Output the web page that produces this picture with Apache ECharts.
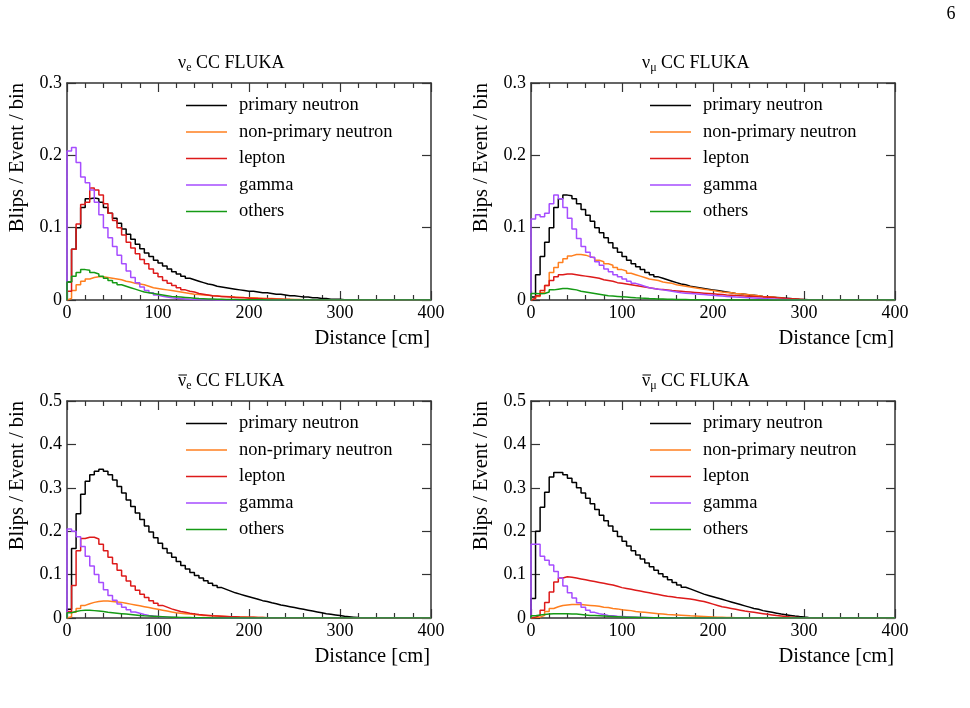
<!DOCTYPE html>
<html>
<head>
<meta charset="utf-8">
<script src="https://cdn.jsdelivr.net/npm/echarts@6/dist/echarts.min.js"></script>
<style>
  html, body { margin: 0; padding: 0; background: #fff; }
  #main { width: 970px; height: 708px; }
</style>
</head>
<body>
<div id="main"></div>
<script>
// histogram bins: 80 bins of 5 cm from 0 to 400 cm
var binWidth = 5;
var seriesNames = ['primary neutron', 'non-primary neutron', 'lepton', 'gamma', 'others'];

// nu_e CC
var nueNeutron = [
  0.025, 0.07, 0.10, 0.128, 0.14, 0.141, 0.14, 0.135, 0.128, 0.12,
  0.113, 0.106, 0.098, 0.091, 0.084, 0.077, 0.071, 0.065, 0.06, 0.055,
  0.051, 0.047, 0.043, 0.039, 0.036, 0.033, 0.03, 0.028, 0.026, 0.024,
  0.022, 0.021, 0.019, 0.018, 0.017, 0.016, 0.015, 0.014, 0.013, 0.012,
  0.012, 0.011, 0.010, 0.010, 0.009, 0.008, 0.008, 0.007, 0.006, 0.006,
  0.005, 0.004, 0.004, 0.003, 0.003, 0.002, 0.002, 0.001, 0.001, 0.001,
  0.0005, 0.0003, 0, 0, 0, 0, 0, 0, 0, 0,
  0, 0, 0, 0, 0, 0, 0, 0, 0, 0
];
var nueNonPrimary = [
  0.002, 0.013, 0.021, 0.026, 0.029, 0.031, 0.032, 0.032, 0.031, 0.03,
  0.029, 0.028, 0.026, 0.025, 0.023, 0.022, 0.021, 0.019, 0.017, 0.016,
  0.015, 0.014, 0.013, 0.012, 0.011, 0.01, 0.009, 0.008, 0.0075, 0.007,
  0.0065, 0.006, 0.0055, 0.005, 0.0047, 0.0044, 0.004, 0.0037, 0.0034, 0.0032,
  0.003, 0.0027, 0.0025, 0.0022, 0.002, 0.0018, 0.0015, 0.0012, 0.001, 0.0008,
  0.0006, 0.0004, 0.0003, 0.0002, 0, 0, 0, 0, 0, 0,
  0, 0, 0, 0, 0, 0, 0, 0, 0, 0,
  0, 0, 0, 0, 0, 0, 0, 0, 0, 0
];
var nueLepton = [
  0.012, 0.07, 0.105, 0.132, 0.135, 0.155, 0.152, 0.145, 0.133, 0.12,
  0.11, 0.1, 0.09, 0.08, 0.072, 0.064, 0.056, 0.05, 0.043, 0.037,
  0.032, 0.027, 0.023, 0.02, 0.017, 0.014, 0.012, 0.011, 0.009, 0.008,
  0.007, 0.006, 0.0055, 0.005, 0.0045, 0.004, 0.0035, 0.003, 0.003, 0.0025,
  0.002, 0.002, 0.0017, 0.0015, 0.0013, 0.0011, 0.001, 0.0008, 0.0006, 0.0005,
  0.0004, 0.0003, 0.0002, 0.0001, 0, 0, 0, 0, 0, 0,
  0, 0, 0, 0, 0, 0, 0, 0, 0, 0,
  0, 0, 0, 0, 0, 0, 0, 0, 0, 0
];
var nueGamma = [
  0.206, 0.211, 0.19, 0.17, 0.162, 0.152, 0.135, 0.118, 0.1, 0.086,
  0.074, 0.062, 0.05, 0.04, 0.031, 0.024, 0.018, 0.013, 0.01, 0.007,
  0.005, 0.004, 0.003, 0.0025, 0.002, 0.0015, 0.001, 0.0008, 0.0006, 0.0004,
  0.0003, 0.0002, 0, 0, 0, 0, 0, 0, 0, 0,
  0, 0, 0, 0, 0, 0, 0, 0, 0, 0,
  0, 0, 0, 0, 0, 0, 0, 0, 0, 0,
  0, 0, 0, 0, 0, 0, 0, 0, 0, 0,
  0, 0, 0, 0, 0, 0, 0, 0, 0, 0
];
var nueOthers = [
  0.025, 0.033, 0.038, 0.042, 0.041, 0.038, 0.036, 0.033, 0.03, 0.027,
  0.024, 0.021, 0.019, 0.017, 0.015, 0.013, 0.011, 0.01, 0.009, 0.008,
  0.007, 0.006, 0.005, 0.0045, 0.004, 0.0035, 0.003, 0.0025, 0.002, 0.0018,
  0.0015, 0.0013, 0.001, 0.0009, 0.0008, 0.0007, 0.0006, 0.0005, 0.0004, 0.0003,
  0.0003, 0.0002, 0.0002, 0.0001, 0, 0, 0, 0, 0, 0,
  0, 0, 0, 0, 0, 0, 0, 0, 0, 0,
  0, 0, 0, 0, 0, 0, 0, 0, 0, 0,
  0, 0, 0, 0, 0, 0, 0, 0, 0, 0
];

// nu_mu CC
var numuNeutron = [
  0.004, 0.035, 0.06, 0.08, 0.1, 0.128, 0.14, 0.145, 0.144, 0.14,
  0.133, 0.125, 0.117, 0.109, 0.1, 0.093, 0.086, 0.079, 0.072, 0.066,
  0.06, 0.055, 0.05, 0.046, 0.042, 0.038, 0.035, 0.032, 0.03, 0.028,
  0.026, 0.024, 0.022, 0.021, 0.019, 0.018, 0.017, 0.016, 0.015, 0.014,
  0.013, 0.012, 0.011, 0.01, 0.009, 0.0085, 0.008, 0.007, 0.0065, 0.006,
  0.005, 0.0045, 0.004, 0.0035, 0.003, 0.0025, 0.002, 0.0015, 0.001, 0.0007,
  0.0004, 0.0002, 0, 0, 0, 0, 0, 0, 0, 0,
  0, 0, 0, 0, 0, 0, 0, 0, 0, 0
];
var numuNonPrimary = [
  0.002, 0.005, 0.01, 0.02, 0.038, 0.045, 0.052, 0.057, 0.061, 0.063,
  0.063, 0.062, 0.06, 0.058, 0.055, 0.053, 0.05, 0.048, 0.045, 0.042,
  0.04, 0.037, 0.035, 0.033, 0.031, 0.029, 0.028, 0.027, 0.025, 0.024,
  0.023, 0.021, 0.02, 0.019, 0.018, 0.017, 0.016, 0.015, 0.014, 0.013,
  0.012, 0.011, 0.0105, 0.01, 0.009, 0.0085, 0.008, 0.0072, 0.0065, 0.006,
  0.005, 0.0045, 0.004, 0.0033, 0.0027, 0.002, 0.0015, 0.001, 0.0006, 0.0003,
  0, 0, 0, 0, 0, 0, 0, 0, 0, 0,
  0, 0, 0, 0, 0, 0, 0, 0, 0, 0
];
var numuLepton = [
  0.002, 0.006, 0.013, 0.02, 0.027, 0.032, 0.035, 0.036, 0.036, 0.035,
  0.034, 0.033, 0.032, 0.031, 0.03, 0.028, 0.027, 0.026, 0.024, 0.023,
  0.022, 0.021, 0.02, 0.019, 0.018, 0.017, 0.016, 0.015, 0.0145, 0.014,
  0.013, 0.0125, 0.012, 0.0115, 0.011, 0.0105, 0.01, 0.0095, 0.009, 0.0085,
  0.008, 0.0075, 0.007, 0.0067, 0.0063, 0.006, 0.0056, 0.0052, 0.005, 0.0046,
  0.0043, 0.004, 0.0035, 0.003, 0.0026, 0.0022, 0.0018, 0.0014, 0.001, 0.0006,
  0.0003, 0, 0, 0, 0, 0, 0, 0, 0, 0,
  0, 0, 0, 0, 0, 0, 0, 0, 0, 0
];
var numuGamma = [
  0.112, 0.118, 0.115, 0.12, 0.133, 0.145, 0.14, 0.128, 0.113, 0.098,
  0.085, 0.074, 0.066, 0.059, 0.053, 0.048, 0.043, 0.039, 0.035, 0.032,
  0.029, 0.026, 0.023, 0.021, 0.019, 0.017, 0.016, 0.015, 0.014, 0.013,
  0.012, 0.011, 0.01, 0.0095, 0.009, 0.0085, 0.008, 0.0075, 0.007, 0.0065,
  0.006, 0.0055, 0.005, 0.0045, 0.004, 0.0037, 0.0033, 0.003, 0.0027, 0.0024,
  0.002, 0.0017, 0.0014, 0.0011, 0.0008, 0.0006, 0.0004, 0.0002, 0, 0,
  0, 0, 0, 0, 0, 0, 0, 0, 0, 0,
  0, 0, 0, 0, 0, 0, 0, 0, 0, 0
];
var numuOthers = [
  0.009, 0.0085, 0.009, 0.011, 0.014, 0.015, 0.016, 0.016, 0.015, 0.014,
  0.012, 0.011, 0.01, 0.009, 0.008, 0.007, 0.006, 0.0055, 0.005, 0.0045,
  0.004, 0.0035, 0.003, 0.0026, 0.0023, 0.002, 0.0018, 0.0015, 0.0013, 0.0011,
  0.001, 0.0008, 0.0007, 0.0006, 0.0005, 0.0004, 0.0003, 0.0002, 0.0001, 0,
  0, 0, 0, 0, 0, 0, 0, 0, 0, 0,
  0, 0, 0, 0, 0, 0, 0, 0, 0, 0,
  0, 0, 0, 0, 0, 0, 0, 0, 0, 0,
  0, 0, 0, 0, 0, 0, 0, 0, 0, 0
];

// anti nu_e CC
var nuebarNeutron = [
  0.02, 0.16, 0.24, 0.285, 0.315, 0.33, 0.338, 0.343, 0.338, 0.33,
  0.318, 0.303, 0.288, 0.272, 0.257, 0.242, 0.227, 0.212, 0.198, 0.185,
  0.172, 0.16, 0.15, 0.14, 0.13, 0.121, 0.113, 0.105, 0.098, 0.092,
  0.086, 0.08, 0.075, 0.07, 0.066, 0.062, 0.058, 0.055, 0.052, 0.049,
  0.046, 0.043, 0.04, 0.038, 0.035, 0.033, 0.03, 0.028, 0.026, 0.024,
  0.022, 0.02, 0.018, 0.016, 0.014, 0.012, 0.01, 0.0085, 0.007, 0.0055,
  0.004, 0.003, 0.002, 0.001, 0.0005, 0, 0, 0, 0, 0,
  0, 0, 0, 0, 0, 0, 0, 0, 0, 0
];
var nuebarNonPrimary = [
  0.003, 0.013, 0.022, 0.029, 0.033, 0.036, 0.038, 0.039, 0.039, 0.038,
  0.037, 0.036, 0.034, 0.032, 0.03, 0.028, 0.026, 0.024, 0.022, 0.02,
  0.018, 0.016, 0.014, 0.012, 0.011, 0.01, 0.009, 0.008, 0.007, 0.006,
  0.0055, 0.005, 0.0045, 0.004, 0.0035, 0.003, 0.0027, 0.0024, 0.0021, 0.0018,
  0.0015, 0.0012, 0.001, 0.0008, 0.0006, 0.0004, 0.0002, 0, 0, 0,
  0, 0, 0, 0, 0, 0, 0, 0, 0, 0,
  0, 0, 0, 0, 0, 0, 0, 0, 0, 0,
  0, 0, 0, 0, 0, 0, 0, 0, 0, 0
];
var nuebarLepton = [
  0.015, 0.075, 0.155, 0.183, 0.186, 0.186, 0.182, 0.17, 0.155, 0.14,
  0.125, 0.11, 0.097, 0.085, 0.074, 0.064, 0.055, 0.047, 0.04, 0.034,
  0.029, 0.025, 0.021, 0.018, 0.015, 0.013, 0.011, 0.0095, 0.008, 0.007,
  0.006, 0.005, 0.0045, 0.004, 0.0035, 0.003, 0.0026, 0.0022, 0.002, 0.0017,
  0.0015, 0.0012, 0.001, 0.0008, 0.0006, 0.0004, 0.0002, 0, 0, 0,
  0, 0, 0, 0, 0, 0, 0, 0, 0, 0,
  0, 0, 0, 0, 0, 0, 0, 0, 0, 0,
  0, 0, 0, 0, 0, 0, 0, 0, 0, 0
];
var nuebarGamma = [
  0.205, 0.2, 0.187, 0.165, 0.142, 0.12, 0.1, 0.082, 0.065, 0.052,
  0.041, 0.032, 0.025, 0.019, 0.014, 0.011, 0.008, 0.006, 0.0045, 0.0035,
  0.0025, 0.002, 0.0015, 0.001, 0.0007, 0.0005, 0.0003, 0.0002, 0, 0,
  0, 0, 0, 0, 0, 0, 0, 0, 0, 0,
  0, 0, 0, 0, 0, 0, 0, 0, 0, 0,
  0, 0, 0, 0, 0, 0, 0, 0, 0, 0,
  0, 0, 0, 0, 0, 0, 0, 0, 0, 0,
  0, 0, 0, 0, 0, 0, 0, 0, 0, 0
];
var nuebarOthers = [
  0.012, 0.015, 0.017, 0.018, 0.018, 0.017, 0.016, 0.015, 0.013, 0.012,
  0.011, 0.01, 0.009, 0.008, 0.007, 0.006, 0.005, 0.0045, 0.004, 0.0035,
  0.003, 0.0025, 0.002, 0.0017, 0.0014, 0.0012, 0.001, 0.0008, 0.0006, 0.0004,
  0.0003, 0.0002, 0, 0, 0, 0, 0, 0, 0, 0,
  0, 0, 0, 0, 0, 0, 0, 0, 0, 0,
  0, 0, 0, 0, 0, 0, 0, 0, 0, 0,
  0, 0, 0, 0, 0, 0, 0, 0, 0, 0,
  0, 0, 0, 0, 0, 0, 0, 0, 0, 0
];

// anti nu_mu CC
var numubarNeutron = [
  0.045, 0.2, 0.255, 0.29, 0.325, 0.335, 0.335, 0.33, 0.322, 0.312,
  0.3, 0.288, 0.276, 0.263, 0.25, 0.237, 0.224, 0.212, 0.2, 0.188,
  0.177, 0.166, 0.155, 0.145, 0.136, 0.127, 0.118, 0.11, 0.102, 0.095,
  0.088, 0.082, 0.076, 0.071, 0.067, 0.063, 0.059, 0.055, 0.052, 0.049,
  0.046, 0.043, 0.04, 0.037, 0.034, 0.031, 0.028, 0.025, 0.022, 0.02,
  0.017, 0.015, 0.013, 0.011, 0.009, 0.0075, 0.006, 0.0045, 0.0033, 0.0022,
  0.0013, 0.0006, 0.0002, 0, 0, 0, 0, 0, 0, 0,
  0, 0, 0, 0, 0, 0, 0, 0, 0, 0
];
var numubarNonPrimary = [
  0.001, 0.002, 0.006, 0.015, 0.022, 0.026, 0.029, 0.03, 0.031, 0.031,
  0.031, 0.03, 0.029, 0.028, 0.027, 0.025, 0.024, 0.022, 0.021, 0.019,
  0.018, 0.017, 0.015, 0.014, 0.013, 0.012, 0.011, 0.01, 0.009, 0.008,
  0.0075, 0.007, 0.0065, 0.006, 0.005, 0.0045, 0.004, 0.0035, 0.003, 0.0025,
  0.002, 0.0017, 0.0014, 0.0011, 0.0008, 0.0005, 0.0003, 0.0001, 0, 0,
  0, 0, 0, 0, 0, 0, 0, 0, 0, 0,
  0, 0, 0, 0, 0, 0, 0, 0, 0, 0,
  0, 0, 0, 0, 0, 0, 0, 0, 0, 0
];
var numubarLepton = [
  0.002, 0.006, 0.018, 0.036, 0.06, 0.083, 0.092, 0.095, 0.094, 0.092,
  0.09, 0.088, 0.086, 0.084, 0.082, 0.08, 0.078, 0.076, 0.073, 0.07,
  0.068, 0.066, 0.064, 0.062, 0.06, 0.058, 0.056, 0.054, 0.052, 0.05,
  0.049, 0.047, 0.046, 0.045, 0.044, 0.042, 0.04, 0.038, 0.035, 0.032,
  0.029, 0.026, 0.024, 0.022, 0.02, 0.018, 0.016, 0.0145, 0.013, 0.0115,
  0.01, 0.0085, 0.007, 0.0055, 0.0045, 0.0035, 0.0025, 0.0018, 0.0012, 0.0007,
  0.0003, 0, 0, 0, 0, 0, 0, 0, 0, 0,
  0, 0, 0, 0, 0, 0, 0, 0, 0, 0
];
var numubarGamma = [
  0.17, 0.17, 0.142, 0.133, 0.122, 0.107, 0.092, 0.074, 0.058, 0.046,
  0.035, 0.025, 0.018, 0.013, 0.01, 0.008, 0.006, 0.005, 0.004, 0.0035,
  0.003, 0.0025, 0.002, 0.0017, 0.0014, 0.0011, 0.0008, 0.0006, 0.0004, 0.0002,
  0, 0, 0, 0, 0, 0, 0, 0, 0, 0,
  0, 0, 0, 0, 0, 0, 0, 0, 0, 0,
  0, 0, 0, 0, 0, 0, 0, 0, 0, 0,
  0, 0, 0, 0, 0, 0, 0, 0, 0, 0,
  0, 0, 0, 0, 0, 0, 0, 0, 0, 0
];
var numubarOthers = [
  0.005, 0.007, 0.008, 0.009, 0.01, 0.01, 0.01, 0.01, 0.009, 0.009,
  0.008, 0.007, 0.006, 0.0055, 0.005, 0.0045, 0.004, 0.0035, 0.003, 0.0025,
  0.002, 0.0018, 0.0015, 0.0012, 0.001, 0.0008, 0.0006, 0.0004, 0.0003, 0.0002,
  0, 0, 0, 0, 0, 0, 0, 0, 0, 0,
  0, 0, 0, 0, 0, 0, 0, 0, 0, 0,
  0, 0, 0, 0, 0, 0, 0, 0, 0, 0,
  0, 0, 0, 0, 0, 0, 0, 0, 0, 0,
  0, 0, 0, 0, 0, 0, 0, 0, 0, 0
];

var FONT = '"Liberation Serif", "DejaVu Serif", serif';
var colors = ['#000000', '#ff7f1f', '#dd1a1a', '#a64dff', '#159a15'];
var axisColor = '#333';

var panels = [
  { sub: 'e', bar: false, left: 67, top: 83, ymax: 0.3,
    sets: [nueNeutron, nueNonPrimary, nueLepton, nueGamma, nueOthers] },
  { sub: 'μ', bar: false, left: 531, top: 83, ymax: 0.3,
    sets: [numuNeutron, numuNonPrimary, numuLepton, numuGamma, numuOthers] },
  { sub: 'e', bar: true, left: 67, top: 401, ymax: 0.5,
    sets: [nuebarNeutron, nuebarNonPrimary, nuebarLepton, nuebarGamma, nuebarOthers] },
  { sub: 'μ', bar: true, left: 531, top: 401, ymax: 0.5,
    sets: [numubarNeutron, numubarNonPrimary, numubarLepton, numubarGamma, numubarOthers] }
];
var W = 364, H = 217;

// histogram as step line: [edge, content] pairs
function toSteps(vals) {
  var pts = [[0, 0]];
  for (var i = 0; i < vals.length; i++) pts.push([i * binWidth, vals[i]]);
  pts.push([vals.length * binWidth, vals[vals.length - 1]]);
  return pts;
}

var option = {
  animation: false,
  grid: [], xAxis: [], yAxis: [], legend: [], series: [], graphic: []
};

panels.forEach(function (p, g) {
  option.grid.push({ left: p.left, top: p.top, width: W, height: H });
  [ 'bottom', 'top' ].forEach(function (pos) {
    option.xAxis.push({
      gridIndex: g, type: 'value', position: pos, min: 0, max: 400, interval: 100,
      axisLine: { show: true, onZero: false, lineStyle: { color: axisColor, width: 1.5 } },
      axisTick: { show: true, inside: true, length: 9, lineStyle: { color: axisColor, width: 1.2 } },
      minorTick: { show: true, splitNumber: 5, length: 5, lineStyle: { color: axisColor, width: 1.2 } },
      splitLine: { show: false },
      axisLabel: { show: pos === 'bottom', fontFamily: FONT, fontSize: 18, color: '#000', margin: 4 },
      name: pos === 'bottom' ? 'Distance [cm]' : '',
      nameLocation: 'end', nameGap: -1,
      nameTextStyle: { fontFamily: FONT, fontSize: 20.5, color: '#000', align: 'right', verticalAlign: 'top', padding: [28, 0, 0, 0] }
    });
  });
  [ 'left', 'right' ].forEach(function (pos) {
    option.yAxis.push({
      gridIndex: g, type: 'value', position: pos, min: 0, max: p.ymax, interval: 0.1,
      axisLine: { show: true, onZero: false, lineStyle: { color: axisColor, width: 1.5 } },
      axisTick: { show: true, inside: true, length: 9, lineStyle: { color: axisColor, width: 1.2 } },
      splitLine: { show: false },
      axisLabel: { show: pos === 'left', fontFamily: FONT, fontSize: 18, color: '#000', margin: 5 }
    });
  });
  option.legend.push({
    data: seriesNames, orient: 'vertical', left: p.left + 114, top: p.top + 8,
    icon: 'path://M0,0H100V4H0Z',
    itemWidth: 41, itemHeight: 18, itemGap: 7.5, selectedMode: false,
    textStyle: { fontFamily: FONT, fontSize: 18.5, color: '#000', lineHeight: 18, padding: [0, 0, 0, 7] }
  });
  p.sets.forEach(function (vals, k) {
    option.series.push({
      name: seriesNames[k], type: 'line', step: 'end', symbol: 'none',
      xAxisIndex: 2 * g, yAxisIndex: 2 * g,
      data: toSteps(vals),
      lineStyle: { color: colors[k], width: 1.5 },
      itemStyle: { color: colors[k] }
    });
  });
  // panel title: nu with subscript (and overline for antineutrinos)
  var tx = p.left + 111, ty = p.top - 20;
  option.graphic.push({
    type: 'text', x: tx, y: ty,
    style: {
      text: '{nu|ν}{sub|' + p.sub + '}{t| CC FLUKA}', align: 'left', verticalAlign: 'middle',
      rich: {
        nu: { fontFamily: FONT, fontSize: 18, lineHeight: 22, fill: '#000' },
        sub: { fontFamily: FONT, fontSize: 12, lineHeight: 14, verticalAlign: 'bottom', fill: '#000' },
        t: { fontFamily: FONT, fontSize: 18, lineHeight: 22, fill: '#000' }
      }
    }
  });
  if (p.bar) {
    option.graphic.push({
      type: 'line', shape: { x1: tx + 0.5, y1: ty - 6, x2: tx + 9, y2: ty - 6 },
      style: { stroke: '#000', lineWidth: 1 }
    });
  }
  // y axis title
  option.graphic.push({
    type: 'text', x: p.left - 49, y: p.top, rotation: Math.PI / 2,
    style: { text: 'Blips / Event / bin', align: 'right', verticalAlign: 'middle',
      font: '20.5px ' + FONT, fill: '#000' }
  });
});

option.graphic.push({
  type: 'text', x: 951, y: 14,
  style: { text: '6', align: 'center', verticalAlign: 'middle', font: '18px ' + FONT, fill: '#000' }
});

var myChart = echarts.init(document.getElementById('main'));
myChart.setOption(option);
</script>
</body>
</html>
